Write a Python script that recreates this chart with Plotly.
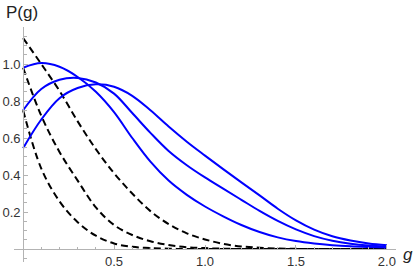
import plotly.graph_objects as go

# ---- data ----
g_vals = [0.0, 0.1, 0.2, 0.3, 0.4, 0.5, 0.6, 0.7, 0.8, 0.9, 1.0,
          1.1, 1.2, 1.3, 1.4, 1.5, 1.6, 1.7, 1.8, 1.9, 2.0]

blue_1 = [0.98, 1.005, 0.985, 0.93, 0.85, 0.74, 0.60, 0.472, 0.37, 0.293, 0.23,
          0.177, 0.13, 0.092, 0.063, 0.043, 0.03, 0.021, 0.015, 0.011, 0.008]
blue_2 = [0.75, 0.865, 0.915, 0.925, 0.90, 0.84, 0.735, 0.628, 0.53, 0.453, 0.387,
          0.326, 0.266, 0.206, 0.152, 0.106, 0.07, 0.045, 0.029, 0.019, 0.013]
blue_3 = [0.545, 0.70, 0.815, 0.87, 0.89, 0.877, 0.828, 0.75, 0.662, 0.58, 0.505,
          0.432, 0.36, 0.29, 0.218, 0.155, 0.105, 0.069, 0.046, 0.03, 0.02]

dash_a = [1.14, 1.0, 0.855, 0.69, 0.54, 0.41, 0.30, 0.205, 0.135, 0.085, 0.052,
          0.028, 0.014, 0.007, 0.003, 0.001, 0.0, 0.0, 0.0, 0.0, 0.0]
dash_b = [0.98, 0.72, 0.525, 0.37, 0.225, 0.13, 0.076, 0.042, 0.022, 0.01, 0.005,
          0.002, 0.0, 0.0, 0.0, 0.0, 0.0, 0.0, 0.0, 0.0, 0.0]
dash_c = [0.75, 0.435, 0.258, 0.145, 0.072, 0.03, 0.012, 0.005, 0.002, 0.0, 0.0,
          0.0, 0.0, 0.0, 0.0, 0.0, 0.0, 0.0, 0.0, 0.0, 0.0]

x_tick_vals = [0.5, 1.0, 1.5, 2.0]
x_tick_text = ["0.5", "1.0", "1.5", "2.0"]
y_tick_vals = [0.2, 0.4, 0.6, 0.8, 1.0]
y_tick_text = ["0.2", "0.4", "0.6", "0.8", "1.0"]

X_RANGE = [-0.05, 2.05]
Y_RANGE = [-0.07, 1.2]

fig = go.Figure()

for ys in (dash_a, dash_b, dash_c):
    fig.add_trace(go.Scatter(x=g_vals, y=ys, mode="lines", line_shape="spline",
                             line=dict(color="black", width=2, dash="7px,4px"),
                             showlegend=False, hoverinfo="skip"))
for ys in (blue_1, blue_2, blue_3):
    fig.add_trace(go.Scatter(x=g_vals, y=ys, mode="lines", line_shape="spline",
                             line=dict(color="#0000ff", width=2),
                             showlegend=False, hoverinfo="skip"))

axis_color = "#b3b3b3"
font_family = "Liberation Sans, Arial, sans-serif"
tick_font = dict(family=font_family, size=13, color="#333333")

x_pos = (0 - Y_RANGE[0]) / (Y_RANGE[1] - Y_RANGE[0])
y_pos = (0 - X_RANGE[0]) / (X_RANGE[1] - X_RANGE[0])

fig.update_layout(
    template="none",
    width=415, height=271, autosize=False,
    margin=dict(l=14, r=19, t=27, b=9, pad=0),
    paper_bgcolor="white", plot_bgcolor="white",
    showlegend=False,
    xaxis=dict(range=X_RANGE, anchor="free", position=x_pos, automargin=False,
               showgrid=False, zeroline=False, showline=True,
               linecolor=axis_color, linewidth=1,
               ticks="inside", ticklen=4, tickcolor=axis_color, tickwidth=1,
               tickvals=x_tick_vals, ticktext=x_tick_text, tickfont=tick_font,
               minor=dict(ticks="inside", ticklen=2.5, tick0=0, dtick=0.1,
                          tickcolor=axis_color, showgrid=False)),
    yaxis=dict(range=Y_RANGE, anchor="free", position=y_pos, automargin=False,
               showgrid=False, zeroline=False, showline=True,
               linecolor=axis_color, linewidth=1,
               ticks="inside", ticklen=4, tickcolor=axis_color, tickwidth=1,
               tickvals=y_tick_vals, ticktext=y_tick_text, tickfont=tick_font,
               minor=dict(ticks="inside", ticklen=2.5, tick0=0, dtick=0.05,
                          tickcolor=axis_color, showgrid=False)),
    annotations=[
        dict(text="P(g)", xref="paper", yref="paper", x=0, y=1.0,
             xanchor="left", yanchor="bottom", showarrow=False,
             xshift=-9, yshift=4, borderpad=0,
             font=dict(family=font_family, size=17, color="#222222")),
        dict(text="<i>g</i>", xref="paper", yref="y", x=1.0, y=0,
             xanchor="center", yanchor="middle", showarrow=False,
             xshift=12, yshift=-5, borderpad=0,
             font=dict(family=font_family, size=17, color="#222222")),
    ],
)

fig.write_html("out.html",
               config={"displayModeBar": False, "staticPlot": True},
               post_script="document.body.style.margin='0';document.body.style.padding='0';")
